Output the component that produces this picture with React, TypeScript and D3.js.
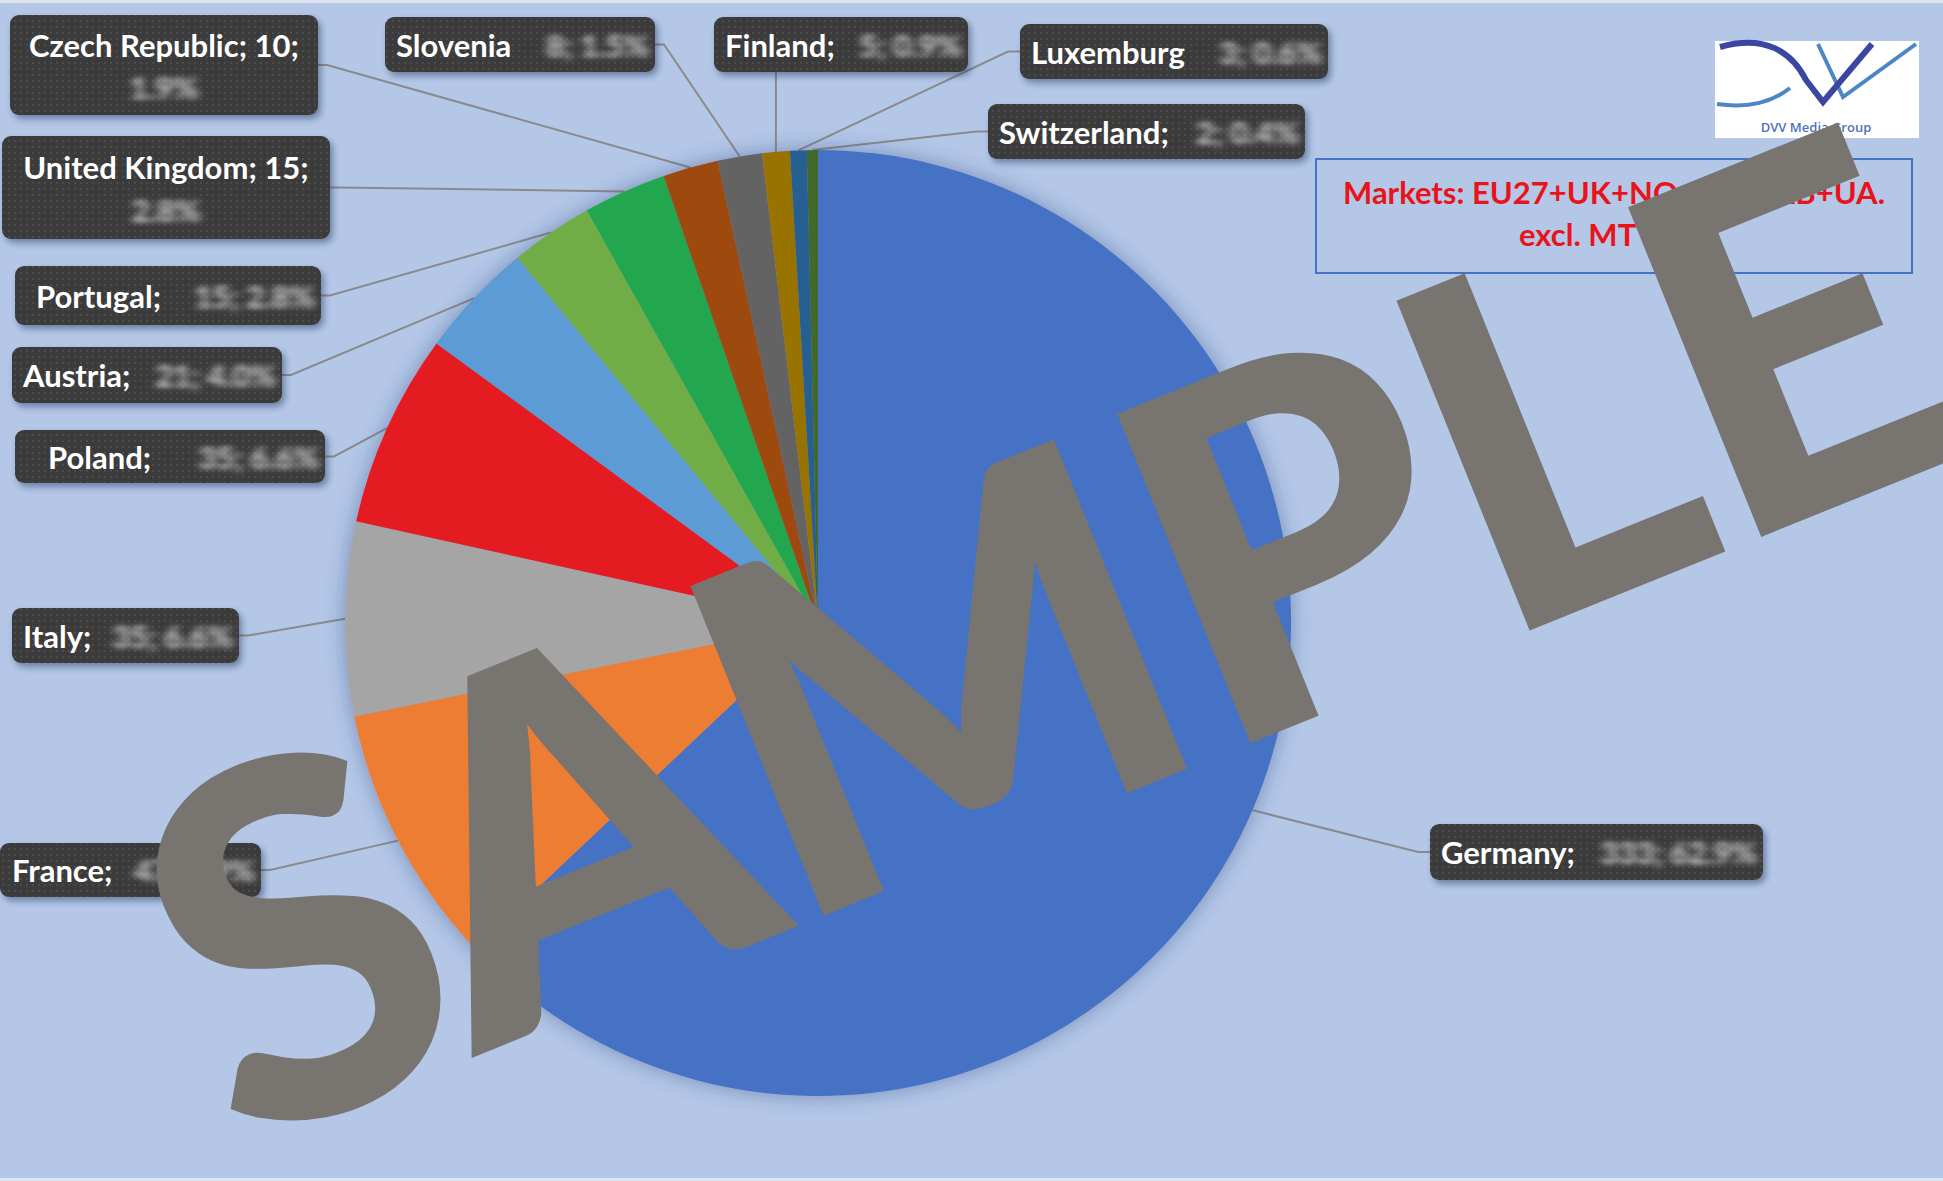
import React from "react";
import * as d3 from "d3";

// data (units, pie goes clockwise from 12 o'clock)
const countries = ["Germany", "France", "Italy", "Poland", "Austria", "Portugal", "United Kingdom", "Czech Republic", "Slovenia", "Finland", "Luxemburg", "Switzerland"];
const units = [333, 47, 35, 35, 21, 15, 15, 10, 8, 5, 3, 2];
const sliceColors = ["#4472C4", "#ED7D31", "#A5A5A5", "#E41E20", "#5B9BD5", "#70AD47", "#23A74F", "#9E480E", "#636363", "#997300", "#255E91", "#43682B"];
// names shown plain, without the semicolon for two of them
const nameText = ["Germany;", "France;", "Italy;", "Poland;", "Austria;", "Portugal;", "United Kingdom; 15;", "Czech Republic; 10;", "Slovenia", "Finland;", "Luxemburg", "Switzerland;"];
const marketsLines = ["Markets: EU27+UK+NO+CH+SRB+UA.", "excl. MT + CY"];

// label box layout
const boxes = [
    { x: 1430, y: 824, w: 333, h: 56, side: "left", pad: 11 },
    { x: 0, y: 843, w: 261, h: 54, side: "right", pad: 12 },
    { x: 12, y: 608, w: 227, h: 55, side: "right", pad: 11 },
    { x: 15, y: 430, w: 310, h: 53, side: "right", pad: 33 },
    { x: 12, y: 347, w: 270, h: 56, side: "right", pad: 11 },
    { x: 15, y: 266, w: 306, h: 59, side: "right", pad: 21 },
    { x: 2, y: 136, w: 328, h: 103, side: "right", pad: 0, two: true },
    { x: 10, y: 15, w: 308, h: 100, side: "right", pad: 0, two: true },
    { x: 385, y: 17, w: 270, h: 55, side: "right", pad: 11 },
    { x: 714, y: 17, w: 254, h: 55, side: "bottom", pad: 11 },
    { x: 1020, y: 24, w: 308, h: 55, side: "left", pad: 11 },
    { x: 988, y: 104, w: 317, h: 55, side: "left", pad: 11 },
];

const W = 1943;
const H = 1181;
const cx = 818;
const cy = 623;
const R = 473;

export default function App() {
    const total = d3.sum(units);
    const pie = d3.pie<number>().sort(null).value((d) => d).startAngle(0).endAngle(2 * Math.PI);
    const arcs = pie(units);
    const arc = d3.arc<d3.PieArcDatum<number>>().innerRadius(0).outerRadius(R);
    const edge = d3.arc<d3.PieArcDatum<number>>().innerRadius(R).outerRadius(R);
    const pct = d3.format(".1f");

    const leader = (i: number) => {
        const b = boxes[i];
        const [px, py] = edge.centroid(arcs[i]);
        let pts: [number, number][] = [];
        if (b.side === "right") {
            const ay = b.y + b.h / 2;
            pts = [[b.x + b.w, ay], [b.x + b.w + 9, ay], [cx + px, cy + py]];
        } else if (b.side === "left") {
            const ay = b.y + b.h / 2;
            pts = [[b.x, ay], [b.x - 12, ay], [cx + px, cy + py]];
        } else {
            const ax = cx + px;
            pts = [[ax, b.y + b.h], [cx + px, cy + py]];
        }
        return d3.line()(pts) || "";
    };

    return (
        <div style={{ position: "fixed", left: 0, top: 0 }}>
            <svg width={W} height={H} style={{ display: "block" }}>
                <defs>
                    <pattern id="dots" width="6" height="6" patternUnits="userSpaceOnUse">
                        <rect width="6" height="6" fill="#3a3a3a" />
                        <circle cx="3" cy="3" r="0.9" fill="#555" />
                    </pattern>
                    <filter id="boxShadow" x="-10%" y="-20%" width="130%" height="160%">
                        <feDropShadow dx="3" dy="4" stdDeviation="3" floodColor="#1c2f55" floodOpacity="0.45" />
                    </filter>
                    <filter id="pieShadow" x="-20%" y="-20%" width="140%" height="140%">
                        <feDropShadow dx="0" dy="0" stdDeviation="10" floodColor="#23407a" floodOpacity="0.45" />
                    </filter>
                    <filter id="blurry" x="-10%" y="-40%" width="120%" height="180%">
                        <feGaussianBlur stdDeviation="4 2.5" />
                    </filter>
                </defs>

                <rect width={W} height={H} fill="#B4C7E7" />
                <rect width={W} height={3} fill="#dfe5ee" />
                <rect y={H - 3} width={W} height={3} fill="#dfe5ee" />

                {/* leader lines */}
                {countries.map((c, i) => (
                    <path key={"l" + c} d={leader(i)} fill="none" stroke="#8a8a8a" strokeWidth={2} />
                ))}

                {/* pie */}
                <g transform={`translate(${cx},${cy})`} filter="url(#pieShadow)">
                    {arcs.map((a, i) => (
                        <path key={countries[i]} d={arc(a) || ""} fill={sliceColors[i]} />
                    ))}
                </g>

                {/* labels */}
                {countries.map((c, i) => {
                    const b = boxes[i];
                    const val = b.two ? `${pct((units[i] / total) * 100)}%` : `${units[i]}; ${pct((units[i] / total) * 100)}%`;
                    return (
                        <g key={"b" + c} fontFamily="Lato, 'Open Sans', sans-serif" fontWeight={700} fontSize={31}>
                            <rect x={b.x} y={b.y} width={b.w} height={b.h} rx={9} fill="url(#dots)" filter="url(#boxShadow)" />
                            {b.two ? (
                                <>
                                    <text x={b.x + b.w / 2} y={b.y + b.h * 0.3} textAnchor="middle" dominantBaseline="central" fill="#fff">{nameText[i]}</text>
                                    <text x={b.x + b.w / 2} y={b.y + b.h * 0.72} textAnchor="middle" dominantBaseline="central" fill="#d0d0d0" filter="url(#blurry)">{val}</text>
                                </>
                            ) : (
                                <>
                                    <text x={b.x + b.pad} y={b.y + b.h / 2} dominantBaseline="central" fill="#fff">{nameText[i]}</text>
                                    <text x={b.x + b.w - 6} y={b.y + b.h / 2} textAnchor="end" dominantBaseline="central" fill="#d0d0d0" filter="url(#blurry)">{val}</text>
                                </>
                            )}
                        </g>
                    );
                })}

                {/* markets note */}
                <rect x={1316} y={159} width={596} height={114} fill="none" stroke="#4472C4" strokeWidth={2} />
                {marketsLines.map((t, i) => (
                    <text key={t} x={1614} y={192 + i * 42} textAnchor="middle" dominantBaseline="central" fill="#E8141B" fontFamily="Lato, sans-serif" fontWeight={700} fontSize={31}>{t}</text>
                ))}

                {/* logo */}
                <g>
                    <rect x={1715} y={41} width={204} height={97} fill="#fff" />
                    <path d="M1717,104 C1745,108 1770,104 1790,88" fill="none" stroke="#4d86c6" strokeWidth={4} />
                    <path d="M1818,44 L1843,97 L1916,44" fill="none" stroke="#4d86c6" strokeWidth={4} />
                    <path d="M1720,47 C1765,34 1792,52 1806,80 L1823,102 L1872,44" fill="none" stroke="#3a46a0" strokeWidth={6} />
                    <text x={1816} y={127} textAnchor="middle" dominantBaseline="central" fill="#4f72b8" fontFamily="'Open Sans', sans-serif" fontSize={13} fontWeight={600}>DVV Media Group</text>
                </g>

                {/* watermark */}
                <text transform="translate(1110,800) rotate(-22)" textAnchor="middle" fill="#787470" fontFamily="Lato, sans-serif" fontWeight={900} fontSize={490} letterSpacing={-6}>SAMPLE</text>
            </svg>
        </div>
    );
}
